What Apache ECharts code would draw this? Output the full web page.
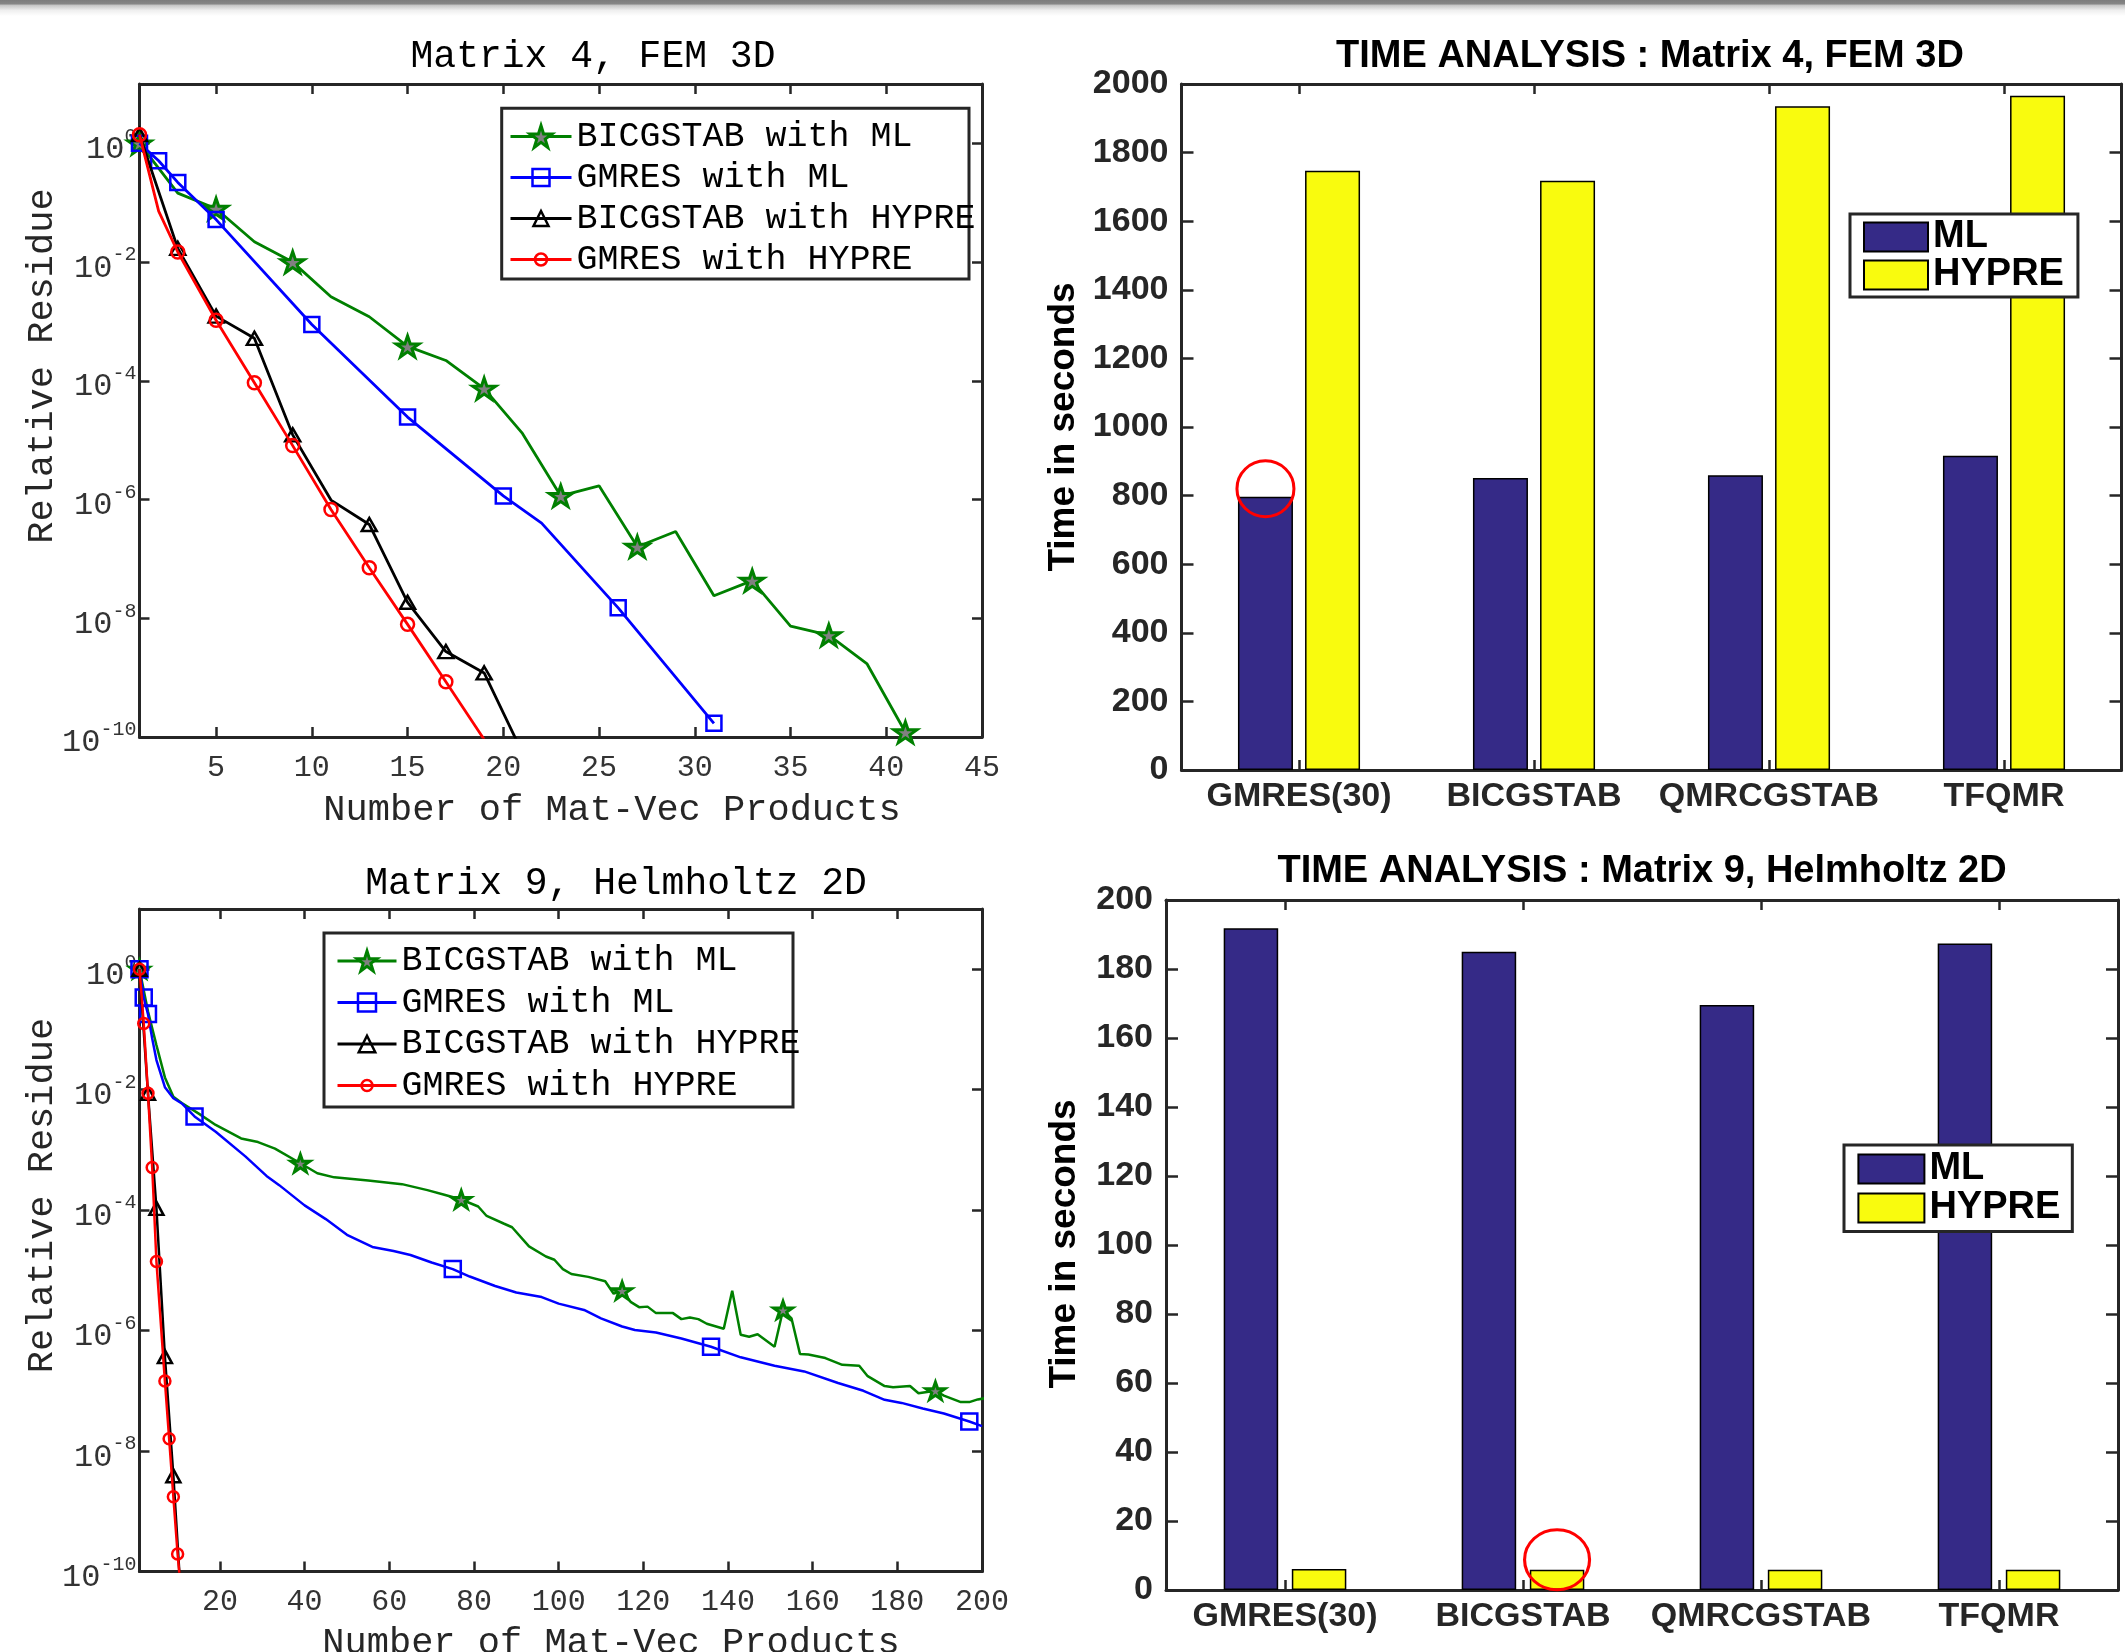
<!DOCTYPE html>
<html><head><meta charset="utf-8">
<script src="https://cdn.jsdelivr.net/npm/echarts@6/dist/echarts.min.js"></script>
<style>html,body{margin:0;padding:0;background:#fff}#c{width:2125px;height:1652px}</style>
</head><body><div id="c"></div>
<script>
// ---------------- DATA ----------------
// Matrix 4, FEM 3D  (relative residue vs number of mat-vec products)
const m4BicgMlX = [1,3,5,7,9,11,13,15,17,19,21,23,25,27,29,31,33,35,37,39,41];
const m4BicgMlY = [1.0,1.45e-1,7.9e-2,2.2e-2,1.0e-2,2.6e-3,1.2e-3,3.8e-4,2.2e-4,7.4e-5,1.3e-5,1.15e-6,1.7e-6,1.6e-7,2.9e-7,2.4e-8,4.3e-8,7.4e-9,5.2e-9,1.7e-9,1.2e-10];
const m4BicgMlMarks = [1,5,9,15,19,23,27,33,37,41];
const m4GmresMlX = [1,2,3,5,10,15,20,22,26,31];
const m4GmresMlY = [1.0,5.1e-1,2.2e-1,5.2e-2,8.9e-4,2.45e-5,1.15e-6,4.0e-7,1.5e-8,1.7e-10];
const m4GmresMlMarks = [1,2,3,5,10,15,20,26,31];
const m4BicgHyX = [1,3,5,7,9,11,13,15,17,19,21];
const m4BicgHyY = [1.4,1.7e-2,1.23e-3,5.2e-4,1.23e-5,9.8e-7,3.8e-7,1.86e-8,2.75e-9,1.2e-9,5.4e-11];
const m4BicgHyMarks = [1,3,5,7,9,13,15,17,19];
const m4GmresHyX = [1,2,3,5,7,9,11,13,15,17,19];
const m4GmresHyY = [1.4,7.2e-2,1.48e-2,1.05e-3,9.3e-5,8.1e-6,6.8e-7,7.1e-8,7.9e-9,8.5e-10,9.1e-11];
const m4GmresHyMarks = [1,3,5,7,9,11,13,15,17];

// Matrix 9, Helmholtz 2D
const m9BicgMlX = [1,3,5,7,9,11,15,19,25,29,33,39,43,47,55,63,69,73,77,81,83,87,89,93,97,99,101,103,107,111,113,115,117,119,121,123,127,129,131,133,135,139,141,143,145,147,151,153,155,157,159,163,167,171,173,177,179,183,185,189,191,195,197,199,201];
const m9BicgMlY = [1.0,2.0e-1,5.5e-2,1.6e-2,7.6e-3,6.0e-3,4.0e-3,2.6e-3,1.55e-3,1.35e-3,1.05e-3,6.0e-4,4.1e-4,3.5e-4,3.1e-4,2.7e-4,2.15e-4,1.8e-4,1.5e-4,1.15e-4,8.0e-5,6.0e-5,5.2e-5,2.5e-5,1.7e-5,1.5e-5,1.05e-5,8.7e-6,7.8e-6,6.6e-6,4.1e-6,4.6e-6,3.0e-6,2.45e-6,2.5e-6,1.95e-6,1.95e-6,1.55e-6,1.65e-6,1.55e-6,1.3e-6,1.07e-6,4.6e-6,8.5e-7,7.9e-7,8.7e-7,5.4e-7,2.2e-6,1.6e-6,4.1e-7,4.0e-7,3.5e-7,2.7e-7,2.6e-7,1.75e-7,1.2e-7,1.15e-7,1.2e-7,9.1e-8,1.0e-7,8.3e-8,6.5e-8,6.5e-8,7.2e-8,7.6e-8];
const m9BicgMlMarks = [1,39,77,115,153,189];
const m9GmresMlX = [1,2,3,4,5,7,9,11,14,19,26,31,34,40,45,50,56,61,65,70,75,79,85,90,96,100,106,110,115,118,123,129,136,143,151,158,166,172,177,181,186,191,197,200];
const m9GmresMlY = [1.0,3.4e-1,1.8e-1,7.1e-2,3.1e-2,1.1e-2,7.2e-3,5.9e-3,3.6e-3,2.0e-3,7.8e-4,3.7e-4,2.6e-4,1.2e-4,7.1e-5,3.9e-5,2.45e-5,2.1e-5,1.8e-5,1.35e-5,1.05e-5,7.9e-6,5.5e-6,4.3e-6,3.6e-6,2.8e-6,2.2e-6,1.6e-6,1.17e-6,1.02e-6,9.3e-7,7.4e-7,5.4e-7,3.6e-7,2.6e-7,2.1e-7,1.35e-7,1.0e-7,7.1e-8,6.3e-8,5.1e-8,4.2e-8,3.1e-8,2.6e-8];
const m9GmresMlMarks = [1,2,3,14,75,136,197];
const m9BicgHyX = [1,3,5,7,9,11];
const m9BicgHyY = [1.0,8.7e-3,1.07e-4,3.7e-7,3.9e-9,2.1e-11];
const m9BicgHyMarks = [1,3,5,7,9];
const m9GmresHyX = [1,2,3,4,5,7,8,9,10,11];
const m9GmresHyY = [1.0,1.26e-1,8.7e-3,5.1e-4,1.4e-5,1.45e-7,1.6e-8,1.74e-9,1.95e-10,3.3e-11];
const m9GmresHyMarks = [1,2,3,4,5,7,8,9,10];

// Time analysis (seconds)
const solvers = ['GMRES(30)', 'BICGSTAB', 'QMRCGSTAB', 'TFQMR'];
const m4TimeMl = [797, 851, 859, 916];
const m4TimeHypre = [1747, 1718, 1935, 1966];
const m9TimeMl = [191.8, 185.0, 169.6, 187.4];
const m9TimeHypre = [6.1, 5.9, 5.9, 5.9];
// highlighted bars (circled in red): [category index, value]
const m4Circle = [0, 820];
const m9Circle = [1, 8.75];

const seriesNames = ['BICGSTAB with ML', 'GMRES with ML', 'BICGSTAB with HYPRE', 'GMRES with HYPRE'];
const precNames = ['ML', 'HYPRE'];

// ---------------- STYLE ----------------
const MONO = '"Liberation Mono", "DejaVu Sans Mono", monospace';
const SANS = '"Liberation Sans", Arial, sans-serif';
const AX = '#262626';
function starPath() {
  let d = '';
  for (let i = 0; i < 10; i++) {
    const a = (-90 + 36 * i) * Math.PI / 180;
    const r = i % 2 === 0 ? 100 : 38.2;
    d += (i === 0 ? 'M' : 'L') + (100 + r * Math.cos(a)).toFixed(2) + ' ' + (100 + r * Math.sin(a)).toFixed(2) + ' ';
  }
  return 'path://' + d + 'Z';
}
const STAR = starPath();
const ST = [
  {color: '#008000', fill: '#808080', symbol: STAR, bw: 3},
  {color: '#0000ff', fill: 'transparent', symbol: 'rect', bw: 2.5},
  {color: '#000000', fill: 'transparent', symbol: 'triangle', bw: 2.5},
  {color: '#ff0000', fill: 'transparent', symbol: 'circle', bw: 2.5}
];

function lineSeries(k, xs, ys, marks, size, xi, yi, lw) {
  const st = ST[k];
  return {
    type: 'line', name: seriesNames[k], xAxisIndex: xi, yAxisIndex: yi,
    data: xs.map((x, i) => marks.indexOf(x) >= 0 ? [x, ys[i]] : {value: [x, ys[i]], symbol: 'none'}),
    symbol: st.symbol, symbolSize: size, symbolKeepAspect: true, showAllSymbol: true,
    clip: true, animation: false, silent: true,
    lineStyle: {color: st.color, width: lw},
    itemStyle: {color: st.fill, borderColor: st.color, borderWidth: st.bw},
    z: 2 + k
  };
}

function lineLegend(k, left, cy, iw, markerSize) {
  const st = ST[k];
  const ih = markerSize / 0.8;
  return {
    show: true, data: [seriesNames[k]], left: left, top: cy - Math.max(ih, 36) / 2,
    orient: 'horizontal', padding: 0, itemGap: 0, itemWidth: iw, itemHeight: ih,
    selectedMode: false, z: 6,
    textStyle: {fontFamily: MONO, fontSize: 35, color: '#000', lineHeight: 36},
    itemStyle: {color: st.fill, borderColor: st.color, borderWidth: st.bw},
    lineStyle: {color: st.color, width: 3}
  };
}

const tickStyle = {color: AX, width: 2.5};
const lineAx = {show: true, onZero: false, lineStyle: {color: AX, width: 3}};

function valX(gi, min, max, split, pos, labels) {
  return {
    type: 'value', gridIndex: gi, min: min, max: max, splitNumber: split, position: pos,
    axisLine: lineAx, splitLine: {show: false},
    axisTick: {show: true, inside: true, length: 10, lineStyle: tickStyle},
    axisLabel: {show: labels, margin: 16, color: '#333', fontFamily: MONO, fontSize: 30,
      formatter: v => (v === min ? '' : String(v))}
  };
}
function logY(gi, pos, labels) {
  return {
    type: 'log', logBase: 10, gridIndex: gi, min: 1e-10, max: 10, interval: 2, position: pos,
    axisLine: lineAx, splitLine: {show: false}, minorTick: {show: false},
    axisTick: {show: true, inside: true, length: 10, lineStyle: tickStyle},
    axisLabel: {show: labels, margin: 3, color: '#333',
      formatter: v => {
        const e = Math.round(Math.log10(v));
        if (e > 0 || e % 2 !== 0) return '';
        return '{b|10}{s|' + (e === 0 ? '0' : '-' + (-e)) + '}';
      },
      rich: {
        b: {fontFamily: MONO, fontSize: 32, color: '#333', padding: [12, 0, 0, 0]},
        s: {fontFamily: MONO, fontSize: 20, color: '#333', padding: [5, 0, 0, 0], verticalAlign: 'top'}
      }
    }
  };
}
function catX(gi, pos, labels) {
  return {
    type: 'category', gridIndex: gi, data: solvers, position: pos, boundaryGap: true,
    axisLine: lineAx, splitLine: {show: false},
    axisTick: {show: true, inside: true, alignWithLabel: true, length: 10, lineStyle: tickStyle},
    axisLabel: {show: labels, margin: 10, color: AX, fontFamily: SANS, fontWeight: 'bold', fontSize: 34, interval: 0}
  };
}
function barY(gi, max, interval, pos, labels) {
  return {
    type: 'value', gridIndex: gi, min: 0, max: max, interval: interval, position: pos,
    axisLine: lineAx, splitLine: {show: false},
    axisTick: {show: true, inside: true, length: 12, lineStyle: tickStyle},
    axisLabel: {show: labels, margin: 13, color: AX, fontFamily: SANS, fontWeight: 'bold', fontSize: 34,
      formatter: v => String(v)}
  };
}
function barSeries(pi, vals, xi, yi, bw, gap, circle, circleSize) {
  const s = {
    type: 'bar', name: precNames[pi], xAxisIndex: xi, yAxisIndex: yi, data: vals,
    barWidth: bw, barGap: gap, animation: false, silent: true,
    itemStyle: {color: pi === 0 ? '#352a87' : '#f9fb0e', borderColor: '#000', borderWidth: 1.5}
  };
  if (circle) {
    s.markPoint = {
      symbol: 'circle', symbolSize: circleSize, silent: true, animation: false,
      data: [{coord: circle}],
      itemStyle: {color: 'transparent', borderColor: '#ff0000', borderWidth: 3},
      label: {show: false}
    };
  }
  return s;
}
function txt(text, x, y, font, size, weight, color, rot) {
  return {type: 'text', x: x, y: y, rotation: rot || 0, z: 10, silent: true,
    style: {text: text, fontFamily: font, fontSize: size, fontWeight: weight, fill: color, align: 'center', verticalAlign: 'middle'}};
}

const option = {
  backgroundColor: '#fff',
  animation: false,
  grid: [
    {left: 139.5, top: 84, width: 842.5, height: 653, outerBoundsMode: 'none'},
    {left: 1181.5, top: 84, width: 940, height: 686, outerBoundsMode: 'none'},
    {left: 139.5, top: 909, width: 842.5, height: 662.5, outerBoundsMode: 'none'},
    {left: 1166, top: 900, width: 952, height: 690, outerBoundsMode: 'none'}
  ],
  xAxis: [
    valX(0, 1, 45, 9, 'bottom', true), valX(0, 1, 45, 9, 'top', false),
    catX(1, 'bottom', true), catX(1, 'top', false),
    valX(2, 1, 200, 10, 'bottom', true), valX(2, 1, 200, 10, 'top', false),
    catX(3, 'bottom', true), catX(3, 'top', false)
  ],
  yAxis: [
    logY(0, 'left', true), logY(0, 'right', false),
    barY(1, 2000, 200, 'left', true), barY(1, 2000, 200, 'right', false),
    logY(2, 'left', true), logY(2, 'right', false),
    barY(3, 200, 20, 'left', true), barY(3, 200, 20, 'right', false)
  ],
  legend: [
    lineLegend(0, 509, 136.5, 61, 22), lineLegend(1, 509, 177.5, 61, 17),
    lineLegend(2, 509, 218.5, 61, 15), lineLegend(3, 509, 259.5, 61, 12),
    lineLegend(0, 336, 961, 59, 20), lineLegend(1, 336, 1002.5, 59, 18),
    lineLegend(2, 336, 1044, 59, 16.5), lineLegend(3, 336, 1085.5, 59, 11),
    {data: precNames, orient: 'vertical', left: 1850, top: 214, padding: [4, 14, 3, 13], itemGap: 0,
     itemWidth: 64, itemHeight: 29, icon: 'rect', selectedMode: false, backgroundColor: '#fff',
     borderColor: AX, borderWidth: 3, z: 6,
     textStyle: {fontFamily: SANS, fontWeight: 'bold', fontSize: 38, color: '#000', lineHeight: 38}},
    {data: precNames, orient: 'vertical', left: 1844, top: 1145, padding: [4.5, 12, 4, 13.4], itemGap: 0,
     itemWidth: 66, itemHeight: 29, icon: 'rect', selectedMode: false, backgroundColor: '#fff',
     borderColor: AX, borderWidth: 3, z: 6,
     textStyle: {fontFamily: SANS, fontWeight: 'bold', fontSize: 38, color: '#000', lineHeight: 39}}
  ],
  series: [
    lineSeries(0, m4BicgMlX, m4BicgMlY, m4BicgMlMarks, [23, 22], 0, 0, 2.8),
    lineSeries(1, m4GmresMlX, m4GmresMlY, m4GmresMlMarks, 15, 0, 0, 2.8),
    lineSeries(2, m4BicgHyX, m4BicgHyY, m4BicgHyMarks, [15, 13], 0, 0, 2.8),
    lineSeries(3, m4GmresHyX, m4GmresHyY, m4GmresHyMarks, 13, 0, 0, 2.8),
    lineSeries(0, m9BicgMlX, m9BicgMlY, m9BicgMlMarks, [19, 18], 4, 4, 2.5),
    lineSeries(1, m9GmresMlX, m9GmresMlY, m9GmresMlMarks, 16, 4, 4, 2.5),
    lineSeries(2, m9BicgHyX, m9BicgHyY, m9BicgHyMarks, [14, 13], 4, 4, 2.5),
    lineSeries(3, m9GmresHyX, m9GmresHyY, m9GmresHyMarks, 11, 4, 4, 2.5),
    barSeries(0, m4TimeMl, 2, 2, 55, '22%', m4Circle, [57, 56]),
    barSeries(1, m4TimeHypre, 2, 2, 55, '22%', null, null),
    barSeries(0, m9TimeMl, 6, 6, 54.5, '25%', null, null),
    barSeries(1, m9TimeHypre, 6, 6, 54.5, '25%', m9Circle, [65, 60])
  ],
  graphic: [
    {type: 'rect', z: 20, silent: true, shape: {x: 0, y: 0, width: 2125, height: 16},
     style: {fill: {type: 'linear', x: 0, y: 0, x2: 0, y2: 1, colorStops: [
       {offset: 0, color: '#7c7c7c'}, {offset: 0.25, color: '#868686'}, {offset: 0.32, color: '#c4c4c4'},
       {offset: 0.65, color: '#efefef'}, {offset: 1, color: '#ffffff'}]}}},
    {type: 'rect', z: 3, silent: true, shape: {x: 501.7, y: 108.3, width: 467.3, height: 170.7},
     style: {fill: '#fff', stroke: AX, lineWidth: 3}},
    {type: 'rect', z: 3, silent: true, shape: {x: 324, y: 933, width: 469, height: 174},
     style: {fill: '#fff', stroke: AX, lineWidth: 3}},
    txt('Matrix 4, FEM 3D', 593, 57, MONO, 38, 'normal', '#000'),
    txt('Matrix 9, Helmholtz 2D', 616, 884, MONO, 38, 'normal', '#000'),
    txt('TIME ANALYSIS : Matrix 4, FEM 3D', 1650, 57, SANS, 38, 'bold', '#000'),
    txt('TIME ANALYSIS : Matrix 9, Helmholtz 2D', 1642, 872, SANS, 38, 'bold', '#000'),
    txt('Number of Mat-Vec Products', 612, 810, MONO, 37, 'normal', AX),
    txt('Number of Mat-Vec Products', 611, 1643, MONO, 37, 'normal', AX),
    txt('Relative Residue', 42, 366, MONO, 37, 'normal', AX, Math.PI / 2),
    txt('Relative Residue', 42, 1195.5, MONO, 37, 'normal', AX, Math.PI / 2),
    txt('Time in seconds', 1064, 427, SANS, 37, 'bold', '#000', Math.PI / 2),
    txt('Time in seconds', 1064.5, 1244, SANS, 37, 'bold', '#000', Math.PI / 2)
  ]
};
const chart = echarts.init(document.getElementById('c'), null, {renderer: 'canvas', width: 2125, height: 1652});
chart.setOption(option);
</script>
</body></html>
